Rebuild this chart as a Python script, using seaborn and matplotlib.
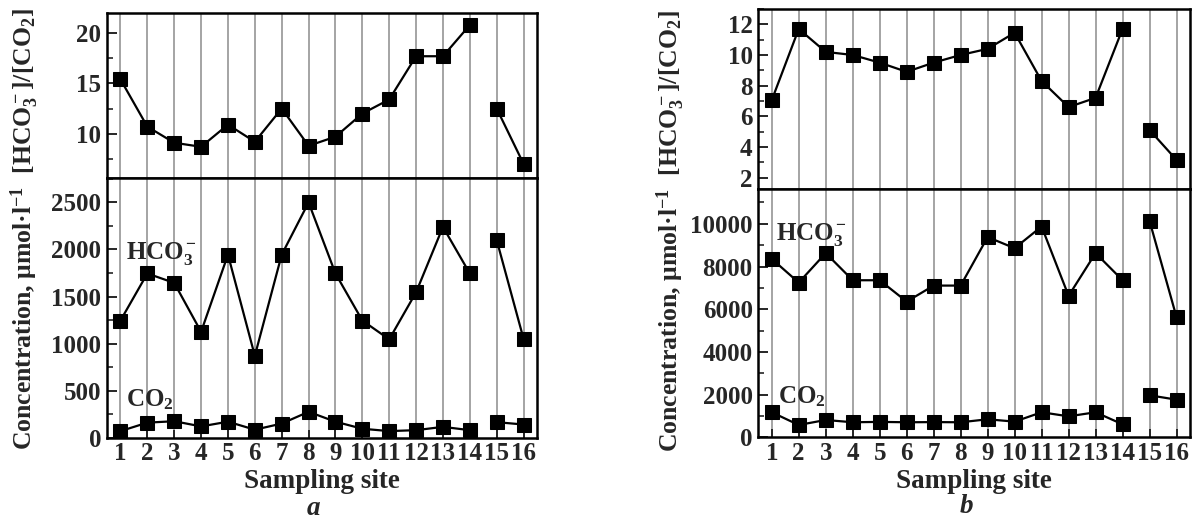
import pandas as pd
import matplotlib
matplotlib.use("Agg")
import matplotlib.pyplot as plt
import matplotlib.ticker as mticker
import seaborn as sns

# ── Data ─────────────────────────────────────────────────────────────────────
sites = list(range(1, 17))
seg = ['main'] * 14 + ['tail'] * 2   # line is broken between site 14 and 15

a_ratio = [15.4, 10.7, 9.1, 8.7, 10.9, 9.2, 12.5, 8.8, 9.7, 12.0, 13.4, 17.7, 17.7, 20.8, 12.5, 7.0]
a_hco3 = [1245, 1745, 1645, 1125, 1945, 870, 1945, 2500, 1745, 1245, 1045, 1545, 2240, 1745, 2100, 1050]
a_co2 = [70, 160, 175, 120, 170, 85, 150, 275, 170, 95, 70, 80, 115, 80, 165, 140]

b_ratio = [7.05, 11.7, 10.2, 10.0, 9.5, 8.9, 9.5, 10.0, 10.4, 11.45, 8.3, 6.6, 7.2, 11.7, 5.1, 3.15]
b_hco3 = [8360, 7250, 8630, 7360, 7360, 6360, 7110, 7110, 9380, 8860, 9875, 6630, 8630, 7360, 10140, 5630]
b_co2 = [1180, 585, 820, 712, 730, 712, 720, 712, 852, 742, 1180, 990, 1180, 617, 1975, 1770]

df = pd.DataFrame({'site': sites, 'seg': seg,
                   'a_ratio': a_ratio, 'a_hco3': a_hco3, 'a_co2': a_co2,
                   'b_ratio': b_ratio, 'b_hco3': b_hco3, 'b_co2': b_co2})

# ── Style ────────────────────────────────────────────────────────────────────
sns.set_theme(style="ticks")
plt.rcParams['font.family'] = ['Liberation Serif', 'DejaVu Serif']
plt.rcParams['font.weight'] = 'bold'
plt.rcParams['mathtext.fontset'] = 'custom'
plt.rcParams['mathtext.rm'] = 'Liberation Serif:bold'
plt.rcParams['mathtext.bf'] = 'Liberation Serif:bold'
plt.rcParams['mathtext.it'] = 'Liberation Serif:bold:italic'
plt.rcParams['mathtext.default'] = 'rm'

FS_TICK = 18
FS_LAB = 19.5
fig = plt.figure(figsize=(11.96, 5.21), dpi=100)

# panel rectangles [left, bottom, width, height] in figure fractions
ax_at = fig.add_axes([0.0895, 0.6584, 0.3595, 0.3167])
ax_ab = fig.add_axes([0.0895, 0.1599, 0.3595, 0.4985])
ax_bt = fig.add_axes([0.6340, 0.6372, 0.3610, 0.3455])
ax_bb = fig.add_axes([0.6340, 0.1603, 0.3610, 0.4769])


def draw(ax, col):
    sns.lineplot(data=df, x='site', y=col, units='seg', estimator=None,
                 color='black', lw=1.6, marker='s', markersize=10,
                 markeredgecolor='black', ax=ax, zorder=3)


def style(ax, bottom):
    ax.set_xlim(0.5, 16.5)
    ax.set_xticks(sites)
    ax.set_axisbelow(True)
    ax.grid(axis='x', color='#8c8c8c', lw=1.1)
    ax.grid(axis='y', visible=False)
    for s in ax.spines.values():
        s.set_linewidth(1.8)
        s.set_color('black')
    ax.tick_params(axis='y', which='major', direction='in', length=7, width=1.4,
                   labelsize=FS_TICK, left=True, right=False, pad=4)
    ax.tick_params(axis='y', which='minor', direction='in', length=4, width=1.2,
                   left=True, right=False)
    ax.set_ylabel('')
    if bottom:
        ax.tick_params(axis='x', direction='in', length=6, width=1.4,
                       labelsize=FS_TICK, pad=3)
        ax.set_xticklabels([str(s) for s in sites])
        ax.set_xlabel('Sampling site', fontsize=FS_LAB, fontweight='bold', labelpad=3)
    else:
        ax.tick_params(axis='x', length=0, labelbottom=False)
        ax.set_xlabel('')


draw(ax_at, 'a_ratio')
draw(ax_ab, 'a_hco3')
draw(ax_ab, 'a_co2')
draw(ax_bt, 'b_ratio')
draw(ax_bb, 'b_hco3')
draw(ax_bb, 'b_co2')

for ax, b in [(ax_at, False), (ax_ab, True), (ax_bt, False), (ax_bb, True)]:
    style(ax, b)

ax_at.set_ylim(5.6, 22)
ax_at.yaxis.set_major_locator(mticker.FixedLocator([10, 15, 20]))
ax_at.yaxis.set_minor_locator(mticker.MultipleLocator(2.5))
ax_ab.set_ylim(0, 2760)
ax_ab.yaxis.set_major_locator(mticker.MultipleLocator(500))
ax_ab.yaxis.set_minor_locator(mticker.MultipleLocator(250))

ax_bt.set_ylim(1.25, 13)
ax_bt.yaxis.set_major_locator(mticker.MultipleLocator(2))
ax_bt.yaxis.set_minor_locator(mticker.MultipleLocator(1))
ax_bb.set_ylim(0, 11630)
ax_bb.yaxis.set_major_locator(mticker.MultipleLocator(2000))
ax_bb.yaxis.set_minor_locator(mticker.MultipleLocator(1000))

# series labels
ax_ab.text(1.19, 1960, 'HCO$_3^-$', fontsize=FS_TICK, va='center', ha='left')
ax_ab.text(1.19, 400, 'CO$_2$', fontsize=FS_TICK, va='center', ha='left')
ax_bb.text(1.16, 9480, 'HCO$_3^-$', fontsize=FS_TICK, va='center', ha='left')
ax_bb.text(1.22, 1910, 'CO$_2$', fontsize=FS_TICK, va='center', ha='left')

ylab = 'Concentration, \u03bcmol\u00b7l$^{-1}$  [HCO$_3^-$]/[CO$_2$]'
fig.text(0.021, 0.5595, ylab, rotation=90, fontsize=18.5, ha='center', va='center')
fig.text(0.561, 0.5566, ylab, rotation=90, fontsize=18.5, ha='center', va='center')

fig.text(0.262, 0.012, 'a', fontsize=FS_LAB, style='italic', ha='center', va='baseline')
fig.text(0.808, 0.016, 'b', fontsize=FS_LAB, style='italic', ha='center', va='baseline')

plt.savefig('out.png', dpi=100)
plt.close()
